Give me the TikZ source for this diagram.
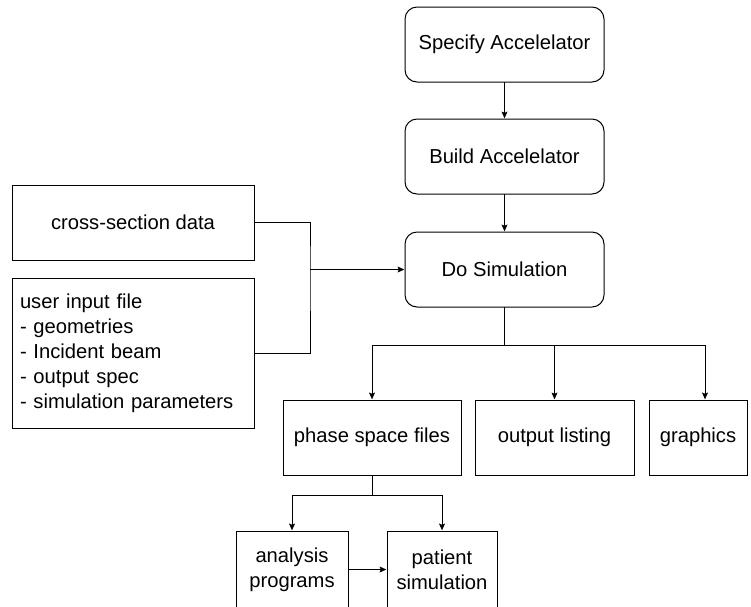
\documentclass[tikz,border=0pt]{standalone}
\usepackage{fontspec}
\setmainfont{Liberation Sans}
\usetikzlibrary{arrows.meta}
\usetikzlibrary{positioning}

\begin{document}
\begin{tikzpicture}[x=1pt, y=-1pt]
\tikzset{
   >={Stealth[length=8pt, width=7pt, inset=1.5pt]}, line width=1pt,
   every node/.style = {font=\fontsize{20.2pt}{25pt}\selectfont},
   box/.style = {rectangle, draw, line width=1pt, minimum height=75pt, align=center, inner sep=0pt, outer sep=0pt},
   step_box/.style = {box, rounded corners=12pt, minimum width=199pt},
   input_box/.style = {box, minimum width=242pt},
   output_box/.style = {box},
   sub_box/.style = {box, minimum height=77pt}
}
\useasboundingbox (0,0) rectangle (751,606);
\clip (0,0) rectangle (751,606);

  \node[step_box] (specify) at (504.5,44.5) {Specify Accelelator};
  \node[step_box] (build) [below = 37pt of specify] {Build Accelelator};
  \node[step_box] (sim) [below = 38pt of build] {Do Simulation};
  \draw[->] (specify) -- (build);
  \draw[->] (build) -- (sim);

  \node[input_box] (xsec) at (133,222.5) {cross-section data};
  \node[input_box, minimum height=150pt, align=left, text width=226pt] (user) at (133,353)
       {user input file\\- geometries\\- Incident beam\\- output spec\\- simulation parameters};

  \coordinate (join) at (310,269.5);
  \draw (xsec.east) -| (join) |- (user.east);
  \draw[->] (join) -- (sim.west);

  \node[output_box, minimum width=178pt] (phase) at (372,437.5) {phase space files};
  \node[output_box, minimum width=159pt] (listing) at (554.5,437.5) {output listing};
  \node[output_box, minimum width=98pt] (graphics) at (698,437.5) {graphics};

  \coordinate (fork) at (504.5,345);
  \draw (sim.south) -- (fork);
  \draw[->] (fork) -| (phase.north);
  \draw[->] (fork) -| (listing.north);
  \draw[->] (fork) -| ([xshift=7pt]graphics.north);

  \node[sub_box, minimum width=112pt] (analysis) at (292,569.5) {analysis\\programs};
  \node[sub_box, minimum width=110pt] (patient) at (442,569.5) {patient\\simulation};

  \coordinate (fork2) at (372,495);
  \draw (phase.south) -- (fork2);
  \draw[->] (fork2) -| (analysis.north);
  \draw[->] (fork2) -| (patient.north);
  \draw[->] (analysis) -- (patient);

\end{tikzpicture}
\end{document}
